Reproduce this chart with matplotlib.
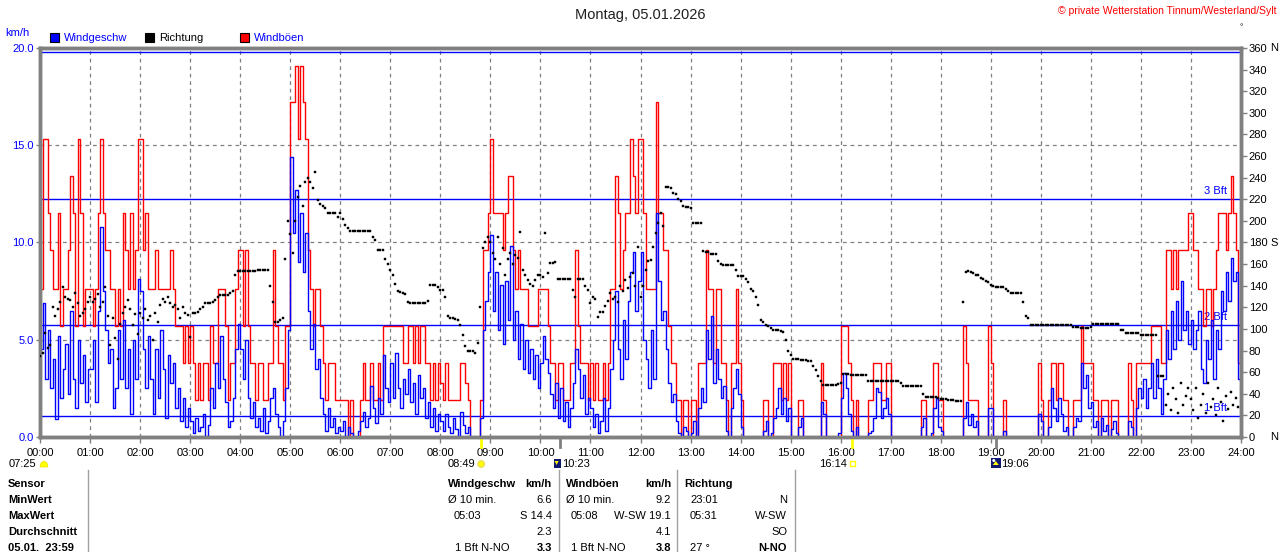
import numpy as np
import matplotlib
matplotlib.use("Agg")
import matplotlib.pyplot as plt
from matplotlib.patches import Rectangle, Circle, Polygon

plt.rcParams['font.family'] = ['Liberation Sans', 'DejaVu Sans']

# ---------------- data (3-minute samples, 20 per hour) ----------------
step_minutes = 3
wind_speed = [
    4.5,6.9,3.0,5.5,2.5,4.0,0.9,5.2,2.0,3.5,4.8,2.2,6.5,3.0,1.5,5.0,2.8,4.2,1.8,3.5,
    3.5,5.0,1.8,6.5,10.8,7.5,5.5,3.8,4.5,1.5,2.5,5.5,3.0,6.0,2.5,4.5,1.2,5.0,3.0,8.1,
    7.5,4.5,2.5,5.2,3.0,1.2,4.5,2.0,5.5,3.5,1.0,4.2,2.8,3.8,1.5,2.5,0.8,2.0,0.5,1.5,
    0.8,0.2,1.0,0.3,0.5,1.2,0.0,0.6,2.5,1.5,3.8,2.5,5.2,3.0,1.8,0.5,0.8,2.0,4.5,5.8,
    4.5,3.0,5.0,2.0,1.0,1.8,0.5,1.0,0.3,1.5,0.2,0.8,2.0,2.5,1.2,0.5,0.0,0.8,2.5,5.5,
    14.4,10.5,12.7,9.0,11.5,8.5,10.5,6.5,4.5,5.8,3.5,4.0,2.0,1.2,0.3,1.5,0.5,1.0,0.2,0.5,
    0.3,0.8,0.0,0.5,0.2,0.0,0.0,0.3,0.8,1.3,0.5,1.0,2.6,1.5,0.7,2.0,1.2,4.2,2.5,1.8,
    3.8,2.0,4.3,2.5,1.5,3.0,2.2,3.5,1.8,2.8,1.2,3.2,2.0,2.5,1.0,1.8,0.5,1.5,0.3,1.2,
    0.8,0.3,1.2,0.5,0.2,1.0,0.4,0.0,1.3,0.6,0.2,0.5,0.0,0.0,0.0,0.0,1.0,5.5,7.0,8.5,
    10.4,6.5,8.5,5.5,7.8,4.8,8.0,6.0,9.8,5.0,6.5,4.0,5.8,3.5,5.0,3.3,4.5,3.0,4.2,2.5,
    3.8,5.2,4.0,3.3,2.2,1.5,2.8,1.0,2.5,0.8,1.8,0.5,1.5,2.8,4.5,3.5,2.0,3.2,1.2,2.0,
    1.5,0.5,1.2,0.2,0.8,2.0,0.3,1.5,3.5,5.0,7.5,4.5,3.0,6.0,4.0,7.0,8.5,9.5,6.5,8.0,
    9.5,5.0,4.0,2.5,5.5,3.0,11.5,8.0,6.0,6.5,4.5,2.8,1.8,2.2,0.8,0.2,0.0,0.5,0.3,0.0,
    0.2,0.8,0.0,1.5,2.5,1.8,5.5,4.0,6.2,2.8,4.5,3.0,2.0,2.6,0.3,0.0,1.5,2.5,3.5,2.2,
    0.5,0.0,0.0,0.0,0.0,0.0,0.0,0.0,0.0,0.3,0.8,0.0,0.2,1.0,1.5,2.5,1.2,2.0,0.8,1.5,
    0.0,0.0,0.0,0.5,1.0,0.0,0.0,0.0,0.0,0.0,0.0,0.0,1.8,1.2,0.0,0.0,0.0,0.0,0.0,0.2,
    2.0,3.3,2.5,1.2,0.3,0.0,0.5,0.0,0.0,0.0,0.0,0.2,0.3,1.0,2.5,2.3,1.0,1.5,2.0,1.2,
    0.0,0.0,0.0,0.0,0.0,0.0,0.0,0.0,0.0,0.0,0.0,0.0,0.5,1.0,0.0,0.0,0.2,1.5,2.0,0.5,
    0.3,0.0,0.0,0.0,0.0,0.0,0.0,0.0,0.0,1.0,1.8,0.6,1.2,0.5,0.8,0.0,0.0,0.0,0.0,1.5,
    1.5,0.0,0.0,0.0,0.0,0.3,0.0,0.0,0.0,0.0,0.0,0.0,0.0,0.0,0.0,0.0,0.0,0.0,0.0,1.2,
    0.8,0.0,0.0,0.5,2.5,1.5,0.8,2.0,1.2,0.3,0.5,0.0,0.0,0.5,1.0,0.8,3.8,2.5,3.2,1.5,
    1.8,0.5,0.8,0.0,1.0,0.3,0.6,0.0,0.4,0.8,0.2,0.0,0.0,0.0,0.0,0.8,0.5,0.0,1.5,2.5,
    2.0,3.0,1.5,2.5,3.8,2.0,4.0,2.5,1.2,3.0,5.5,4.0,6.5,4.5,7.0,5.0,8.0,5.5,6.5,4.8,
    6.0,4.5,5.5,6.5,3.5,2.8,5.0,4.0,6.0,3.0,5.5,4.5,7.5,6.5,8.5,7.0,9.2,8.0,8.5,3.0,
]
wind_gust = [
    7.6,15.3,15.3,11.5,9.6,7.6,7.6,11.5,5.7,7.6,7.6,9.6,13.4,11.5,5.7,15.3,11.5,5.7,7.6,7.6,
    7.6,5.7,7.6,11.5,15.3,11.5,9.6,9.6,7.6,7.6,5.7,7.6,5.7,11.5,9.6,7.6,11.5,7.6,9.6,15.3,
    15.3,9.6,11.5,7.6,7.6,7.6,9.6,7.6,7.6,7.6,7.6,7.6,9.6,7.6,5.7,5.7,5.7,3.8,5.7,3.8,
    5.7,3.8,1.9,3.8,1.9,3.8,3.8,1.9,5.7,3.8,3.8,7.6,7.6,7.6,5.7,1.9,3.8,3.8,7.6,9.6,
    9.6,5.7,9.6,5.7,3.8,3.8,1.9,3.8,3.8,1.9,1.9,3.8,3.8,9.6,5.7,3.8,3.8,1.9,5.7,5.7,
    17.2,17.2,19.1,15.3,19.1,17.2,15.3,9.6,7.6,5.7,7.6,7.6,5.7,3.8,1.9,3.8,3.8,3.8,1.9,1.9,
    1.9,1.9,1.9,0.0,1.9,0.0,0.0,0.0,1.9,3.8,1.9,1.9,3.8,1.9,1.9,3.8,1.9,5.7,5.7,5.7,
    5.7,5.7,5.7,5.7,5.7,3.8,3.8,5.7,5.7,3.8,5.7,3.8,5.7,5.7,3.8,3.8,1.9,3.8,1.9,3.8,
    2.8,1.9,3.8,1.9,1.9,1.9,1.9,1.9,3.8,3.8,2.8,1.9,0.0,0.0,0.0,0.0,1.9,9.6,9.6,11.5,
    15.3,11.5,11.5,11.5,11.5,9.6,11.5,13.4,13.4,9.6,7.6,9.6,7.6,7.6,7.6,5.7,5.7,5.7,5.7,7.6,
    7.6,7.6,7.6,5.7,3.8,3.8,1.9,3.8,3.8,1.9,1.9,1.9,3.8,3.8,9.6,5.7,3.8,3.8,3.8,1.9,
    3.8,1.9,3.8,1.9,1.9,3.8,1.9,3.8,7.6,7.6,13.4,11.5,7.6,9.6,11.5,11.5,15.3,13.4,11.5,15.3,
    15.3,11.5,7.6,7.6,7.6,7.6,17.2,11.5,11.5,9.6,9.6,5.7,3.8,3.8,1.9,1.9,0.0,1.9,1.9,0.0,
    1.9,1.9,0.0,3.8,3.8,3.8,9.6,7.6,7.6,3.8,7.6,7.6,3.8,3.8,1.9,0.0,3.8,3.8,7.6,3.8,
    1.9,0.0,0.0,0.0,0.0,0.0,0.0,0.0,0.0,1.9,1.9,0.0,0.0,3.8,3.8,3.8,1.9,3.8,1.9,3.8,
    0.0,0.0,0.0,1.9,1.9,0.0,0.0,0.0,0.0,0.0,0.0,0.0,3.8,1.9,0.0,0.0,0.0,0.0,0.0,0.0,
    5.7,5.7,5.7,3.8,1.9,0.0,1.9,0.0,0.0,0.0,0.0,1.9,1.9,3.8,3.8,3.8,1.9,1.9,3.8,3.8,
    0.0,0.0,0.0,0.0,0.0,0.0,0.0,0.0,0.0,0.0,0.0,0.0,1.9,1.9,0.0,0.0,0.0,3.8,3.8,1.9,
    1.9,0.0,0.0,0.0,0.0,0.0,0.0,0.0,0.0,5.7,3.8,1.9,1.9,1.9,1.9,0.0,0.0,0.0,0.0,5.7,
    3.8,0.0,0.0,0.0,0.0,1.9,0.0,0.0,0.0,0.0,0.0,0.0,0.0,0.0,0.0,0.0,0.0,0.0,0.0,3.8,
    1.9,0.0,0.0,1.9,3.8,3.8,1.9,3.8,3.8,1.9,1.9,0.0,0.0,1.9,1.9,1.9,5.7,3.8,3.8,3.8,
    3.8,1.9,1.9,0.0,1.9,1.9,1.9,0.0,1.9,1.9,1.9,0.0,0.0,0.0,0.0,3.8,1.9,0.0,3.8,3.8,
    3.8,3.8,3.8,3.8,5.7,5.7,5.7,5.7,3.8,3.8,9.6,9.6,7.6,9.6,7.6,9.6,9.6,9.6,9.6,11.5,
    11.5,9.6,9.6,7.6,7.6,5.7,7.6,7.6,5.7,7.6,9.6,11.5,11.5,11.5,9.6,11.5,13.4,11.5,9.6,3.8,
]
wind_dir = [
    75,78,96,82,85,120,112,118,125,139,130,128,127,120,133,124,112,115,118,125,
    130,125,128,132,120,125,139,112,85,110,92,72,105,115,120,127,118,104,114,95,
    115,110,118,108,112,90,115,106,122,128,125,130,124,120,122,118,110,120,115,113,
    93,115,115,116,118,120,124,124,124,125,127,130,131,131,131,131,133,135,150,154,
    154,154,154,154,154,154,154,155,155,155,155,155,140,125,106,106,108,110,165,200,
    188,170,200,222,232,214,236,240,236,230,245,219,216,214,212,207,207,207,207,204,
    207,202,196,193,191,191,191,191,191,191,191,191,191,185,182,173,173,173,165,160,
    155,150,142,135,134,133,132,125,124,124,124,124,124,124,124,126,141,141,141,139,
    136,136,130,112,110,110,109,108,104,94,84,80,80,80,78,87,120,175,180,185,
    180,170,165,185,160,175,150,165,170,160,168,166,190,155,150,145,142,140,145,150,
    150,148,189,152,161,161,162,146,146,146,146,146,146,136,130,146,146,146,140,136,
    124,130,128,111,116,116,121,126,133,128,130,125,140,135,145,138,148,152,140,176,
    130,140,155,163,164,176,189,198,207,195,231,231,230,226,225,220,218,214,213,213,
    212,198,198,198,198,172,171,171,169,169,169,163,160,159,159,159,159,159,155,149,
    149,149,146,143,137,135,130,122,108,106,104,103,101,99,99,99,98,97,90,80,
    76,72,72,72,71,71,71,70,70,66,62,56,52,48,48,48,48,48,48,49,
    50,58,58,58,57,57,57,57,57,57,57,52,52,52,52,52,52,52,52,52,
    52,52,52,52,50,47,47,47,47,47,47,47,47,40,37,37,37,37,37,36,
    35,35,35,34,34,34,33,33,33,125,153,154,153,152,150,150,147,146,144,143,
    141,140,139,139,139,139,137,135,133,133,133,133,133,125,112,110,104,104,104,104,
    104,104,104,104,104,104,104,104,104,104,104,104,104,102,102,102,101,101,101,101,
    102,105,105,105,105,105,105,105,105,105,105,105,99,99,96,96,96,96,96,96,
    94,94,94,94,94,94,94,56,56,56,30,40,25,45,35,22,50,30,38,45,
    35,25,45,18,30,40,22,50,28,35,20,45,32,15,38,26,42,30,36,28,
]
hour_labels = [f"{h:02d}:00" for h in range(25)]
speed_ticks = [0, 5, 10, 15, 20]
speed_tick_labels = ["0.0", "5.0", "10.0", "15.0", "20.0"]
dir_ticks = list(range(0, 361, 20))
dir_letters = {0: "N", 180: "S", 360: "N"}
bft_levels = [1.08, 5.76, 12.24, 19.8]
bft_labels = ["1 Bft", "2 Bft", "3 Bft", ""]
sun_moon_events = [("08:49", "sunrise"), ("10:23", "moonrise"),
                   ("16:14", "sunset"), ("19:06", "moonset")]
title = "Montag, 05.01.2026"
copyright_text = "© private Wetterstation Tinnum/Westerland/Sylt"

W, H = 1280, 552
GRAY = "#808080"
fig = plt.figure(figsize=(W / 100, H / 100), dpi=100)
fig.patch.set_facecolor("white")

AX_L, AX_R, AX_T, AX_B = 40, 1241, 48, 437
ax = fig.add_axes([AX_L / W, 1 - AX_B / H, (AX_R - AX_L) / W, (AX_B - AX_T) / H])
ax.set_facecolor("white")

n = len(wind_speed)
t = np.arange(n + 1) * step_minutes / 60.0
spd = np.append(wind_speed, wind_speed[-1])
gst = np.append(wind_gust, wind_gust[-1])

# grid
for h in range(1, 24):
    ax.axvline(h, color=GRAY, lw=0.9, ls=(0, (3, 3)), zorder=1)
for v in (5, 10, 15):
    ax.axhline(v, color=GRAY, lw=0.9, ls=(0, (3, 3)), zorder=1)
# beaufort lines
for lv, lb in zip(bft_levels, bft_labels):
    ax.axhline(lv, color="blue", lw=1.0, zorder=1.5)
    if lb:
        ax.text(23.72, lv + 0.15, lb, color="blue", fontsize=8, ha="right",
                va="bottom", zorder=1.6)

ax.step(t, gst, where="post", color="red", lw=1.0, zorder=2)
ax.step(t, spd, where="post", color="blue", lw=1.0, zorder=3)

ax.set_xlim(0, 24)
ax.set_ylim(0, 20)
ax.set_xticks(range(25))
ax.set_xticklabels(hour_labels)
ax.set_yticks(speed_ticks)
ax.set_yticklabels(speed_tick_labels)
ax.tick_params(axis="x", color=GRAY, length=4, width=1, labelsize=8, pad=4)
ax.tick_params(axis="y", color=GRAY, length=3, width=1, labelsize=8, pad=1.5,
               labelcolor="blue")

ax2 = ax.twinx()
tc = np.arange(n) * step_minutes / 60.0
ax2.plot(tc, wind_dir, ls="none", marker="s", ms=1.9, mew=0.3, mec="black",
         color="black", zorder=5)
ax2.set_ylim(0, 360)
ax2.set_yticks(dir_ticks)
ax2.set_yticklabels([str(d) for d in dir_ticks])
ax2.tick_params(axis="y", color=GRAY, length=4, width=1, labelsize=8, pad=1.5)
for a in (ax, ax2):
    for s in a.spines.values():
        s.set_color(GRAY)
        s.set_linewidth(2.5)

# sun / moon markers on the time axis
def hm(s):
    hh, mm = s.split(":")
    return int(hh) + int(mm) / 60.0

for s, kind in sun_moon_events:
    col = "#FFFF00" if kind.startswith("sun") else GRAY
    ax.plot([hm(s), hm(s)], [-0.026, 0], transform=ax.get_xaxis_transform(),
            color=col, lw=2.0, clip_on=False, zorder=6)

# ---------- overlay in pixel coordinates ----------
ov = fig.add_axes([0, 0, 1, 1])
ov.set_xlim(0, W)
ov.set_ylim(H, 0)
ov.axis("off")

def px(hours):
    return AX_L + hours * (AX_R - AX_L) / 24.0

ov.text(640, 15, title, fontsize=10.5, ha="center", va="center", color="#202020")
ov.text(1276, 11, copyright_text, fontsize=7.5, ha="right", va="center", color="red")
ov.text(5, 33, "km/h", fontsize=8, ha="left", va="center", color="blue")
ov.text(1240, 28, "°", fontsize=6, ha="left", va="center", color="black")

legend_items = [(50, "blue", "Windgeschw", "blue"), (145, "black", "Richtung", "black"),
                (240, "red", "Windböen", "blue")]
for x0, fc, lab, tcol in legend_items:
    ov.add_patch(Rectangle((x0, 33), 9, 9, facecolor=fc, edgecolor="black", lw=0.8))
    ov.text(x0 + 14, 38, lab, fontsize=8, ha="left", va="center", color=tcol)

for d, letter in dir_letters.items():
    yy = AX_B - d * (AX_B - AX_T) / 360.0
    ov.text(1270, yy, letter, fontsize=8, ha="left", va="center", color="black")

# sun / moon row
ov.text(9, 464, "07:25", fontsize=8, ha="left", va="center")
ov.add_patch(Polygon([[40, 467], [41, 463], [44, 461], [47, 463], [48, 467]],
                     closed=True, facecolor="#FFFF00", edgecolor="#E8E000", lw=0.5))
xs = px(hm("08:49"))
ov.text(xs - 6, 464, "08:49", fontsize=8, ha="right", va="center")
ov.add_patch(Circle((xs, 464), 3.2, facecolor="#FFFF00", edgecolor="#F0E060", lw=1.2))
xm = px(hm("10:23"))
ov.add_patch(Rectangle((xm - 6, 459), 7, 9, facecolor="#101870", edgecolor="none"))
ov.add_patch(Polygon([[xm - 5, 461], [xm - 1, 461], [xm - 3, 465]], closed=True,
                     facecolor="#FFFF00", edgecolor="none"))
ov.text(xm + 2, 464, "10:23", fontsize=8, ha="left", va="center")
xss = px(hm("16:14"))
ov.text(xss - 5, 464, "16:14", fontsize=8, ha="right", va="center")
ov.add_patch(Rectangle((xss - 2, 461), 5, 5, facecolor="none", edgecolor="#FFFF00", lw=1))
xms = px(hm("19:06"))
ov.add_patch(Rectangle((xms - 5, 458), 10, 10, facecolor="#101870", edgecolor="none"))
ov.add_patch(Circle((xms - 2, 460.5), 1.5, facecolor="white", edgecolor="none"))
ov.add_patch(Polygon([[xms, 461], [xms + 3, 465], [xms - 3, 465]], closed=True,
                     facecolor="#FFFF00", edgecolor="none"))
ov.text(xms + 5, 464, "19:06", fontsize=8, ha="left", va="center")

# ---------- statistics table ----------
rows_y = [484, 500, 516, 532, 548]
row_names = ["Sensor", "MinWert", "MaxWert", "Durchschnitt", "05.01.  23:59"]
for y, nm in zip(rows_y, row_names):
    ov.text(8, y, nm, fontsize=8, fontweight="bold", ha="left", va="center")
for xsep in (88, 559, 677, 795):
    ov.plot([xsep, xsep], [470, 552], color="#A0A0A0", lw=1)

table_cells = [
    # (x, row, text, ha, bold)
    (448, 0, "Windgeschw", "left", True), (552, 0, "km/h", "right", True),
    (448, 1, "Ø 10 min.", "left", False), (552, 1, "6.6", "right", False),
    (454, 2, "05:03", "left", False), (552, 2, "S 14.4", "right", False),
    (552, 3, "2.3", "right", False),
    (455, 4, "1 Bft N-NO", "left", False), (552, 4, "3.3", "right", True),
    (566, 0, "Windböen", "left", True), (671, 0, "km/h", "right", True),
    (566, 1, "Ø 10 min.", "left", False), (671, 1, "9.2", "right", False),
    (571, 2, "05:08", "left", False), (671, 2, "W-SW 19.1", "right", False),
    (671, 3, "4.1", "right", False),
    (571, 4, "1 Bft N-NO", "left", False), (671, 4, "3.8", "right", True),
    (684, 0, "Richtung", "left", True),
    (690, 1, "23:01", "left", False), (787, 1, "N", "right", False),
    (690, 2, "05:31", "left", False), (787, 2, "W-SW", "right", False),
    (787, 3, "SO", "right", False),
    (690, 4, "27 °", "left", False), (787, 4, "N-NO", "right", True),
]
for x, r, txt, ha, bold in table_cells:
    ov.text(x, rows_y[r], txt, fontsize=8, ha=ha, va="center",
            fontweight="bold" if bold else "normal")

fig.savefig("out.png", dpi=100)
